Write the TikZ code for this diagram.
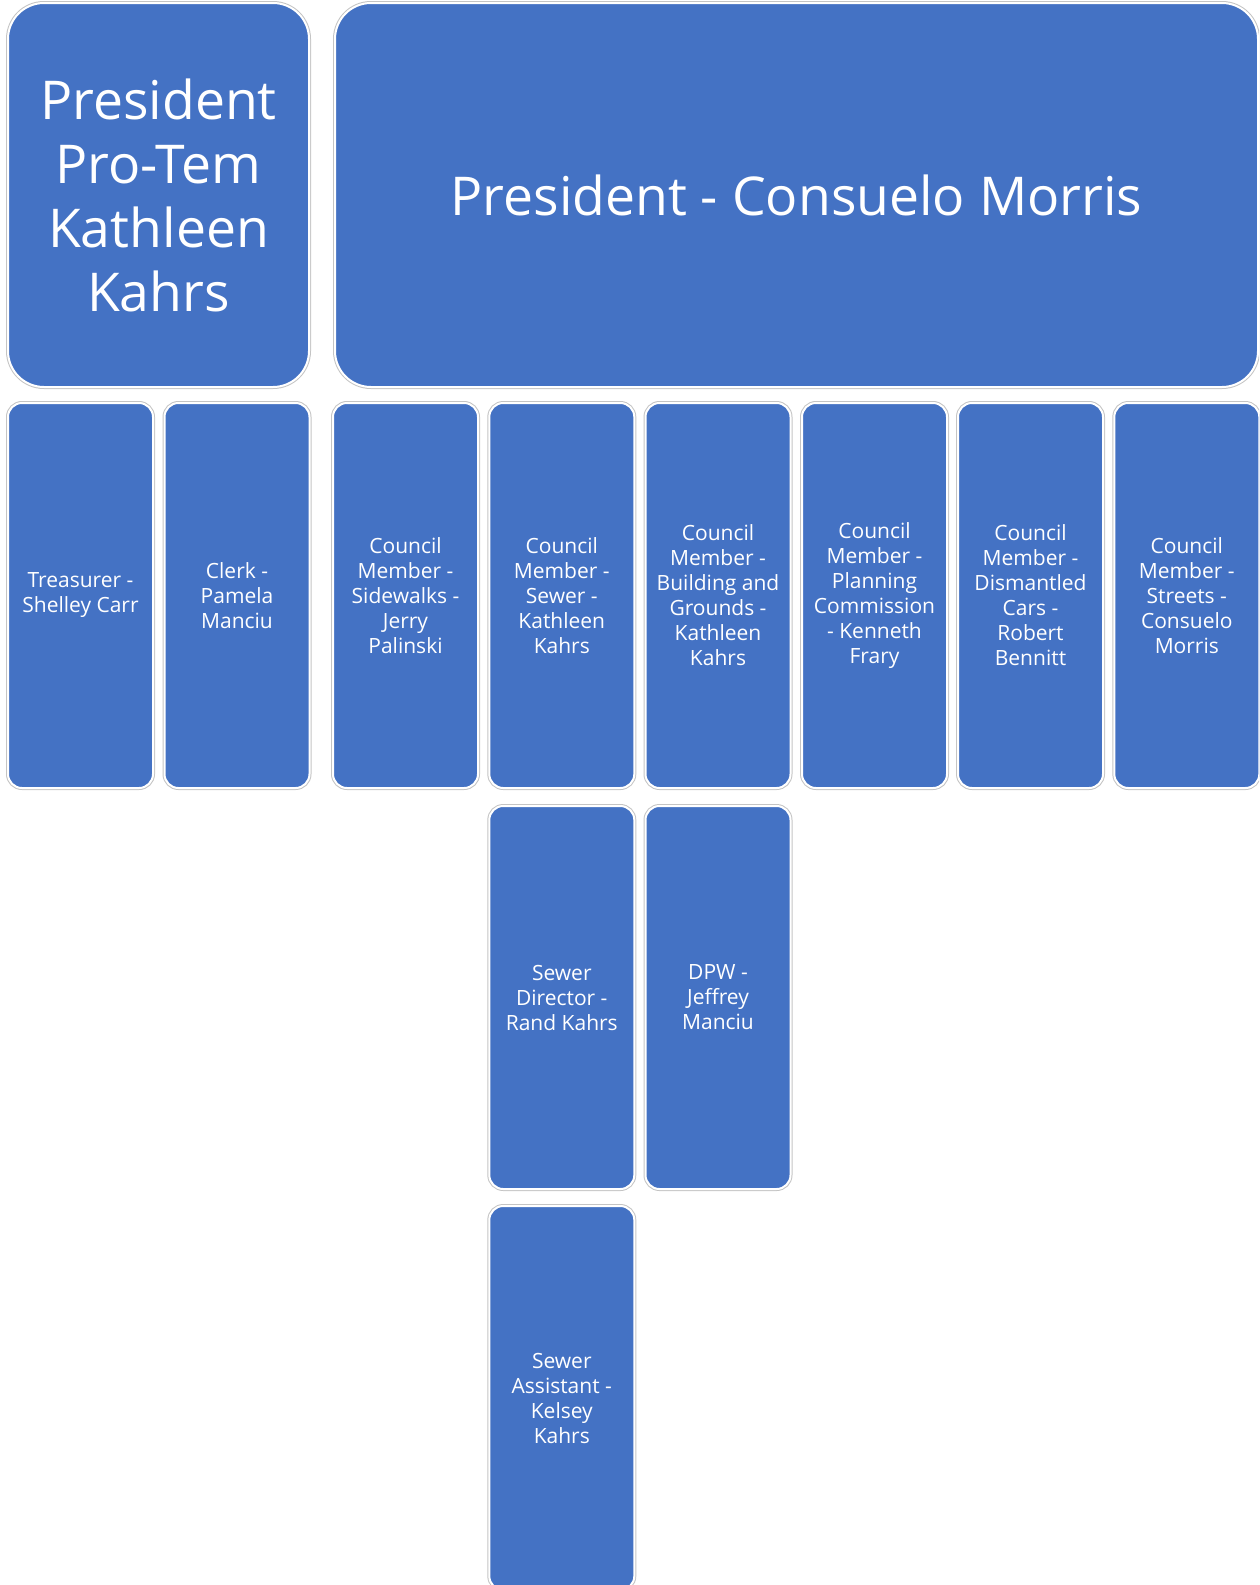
\documentclass[tikz,border=0pt]{standalone}
\usepackage{fontspec}
\setmainfont{Open Sans}
\definecolor{boxblue}{HTML}{4472C4}
\definecolor{rimgray}{HTML}{C4C4C4}
\tikzset{
  x=1pt, y=-1pt,
  orgbox/.style={rectangle, fill=boxblue, draw=white, line width=2pt,
    preaction={draw=rimgray, line width=4pt},
    text=white, align=center, inner sep=0pt},
  bigbox/.style={orgbox, rounded corners=36pt, minimum height=384pt,
    font=\fontsize{53.5}{64}\selectfont},
  smallbox/.style={orgbox, rounded corners=14pt, minimum width=145pt,
    font=\fontsize{21}{25}\selectfont}
}
\begin{document}
\begin{tikzpicture}
\useasboundingbox (0,0) rectangle (1259,1585);
\clip (0,0) rectangle (1259,1585);
% row 1
\node[bigbox, minimum width=301pt] (protem) at (158.5,195) {President\\Pro-Tem\\Kathleen\\Kahrs};
\node[bigbox, minimum width=923pt] (pres) at (796.5,195) {President - Consuelo Morris};
% row 2
\node[smallbox, minimum height=385pt] (treas) at (80.5,595.5) {Treasurer -\\Shelley Carr};
\node[smallbox, minimum height=385pt] (clerk) at (237,595.5) {Clerk -\\Pamela\\Manciu};
\node[smallbox, minimum height=385pt] (cmsidewalks) at (405.5,595.5) {Council\\Member -\\Sidewalks -\\Jerry\\Palinski};
\node[smallbox, minimum height=385pt] (cmsewer) at (561.8,595.5) {Council\\Member -\\Sewer -\\Kathleen\\Kahrs};
\node[smallbox, minimum height=385pt] (cmbuilding) at (718,595.5) {Council\\Member -\\Building and\\Grounds -\\Kathleen\\Kahrs};
\node[smallbox, minimum height=385pt] (cmplanning) at (874.5,595.5) {Council\\Member -\\Planning\\Commission\\- Kenneth\\Frary};
\node[smallbox, minimum height=385pt] (cmcars) at (1030.5,595.5) {Council\\Member -\\Dismantled\\Cars -\\Robert\\Bennitt};
\node[smallbox, minimum height=385pt] (cmstreets) at (1186.8,595.5) {Council\\Member -\\Streets -\\Consuelo\\Morris};
% row 3
\node[smallbox, minimum height=383pt] (sdir) at (561.8,997.5) {Sewer\\Director -\\Rand Kahrs};
\node[smallbox, minimum height=383pt] (dpw) at (718,997.5) {DPW -\\Jeffrey\\Manciu};
% row 4
\node[smallbox, minimum height=384pt] (sasst) at (561.8,1398) {Sewer\\Assistant -\\Kelsey\\Kahrs};
\end{tikzpicture}
\end{document}
